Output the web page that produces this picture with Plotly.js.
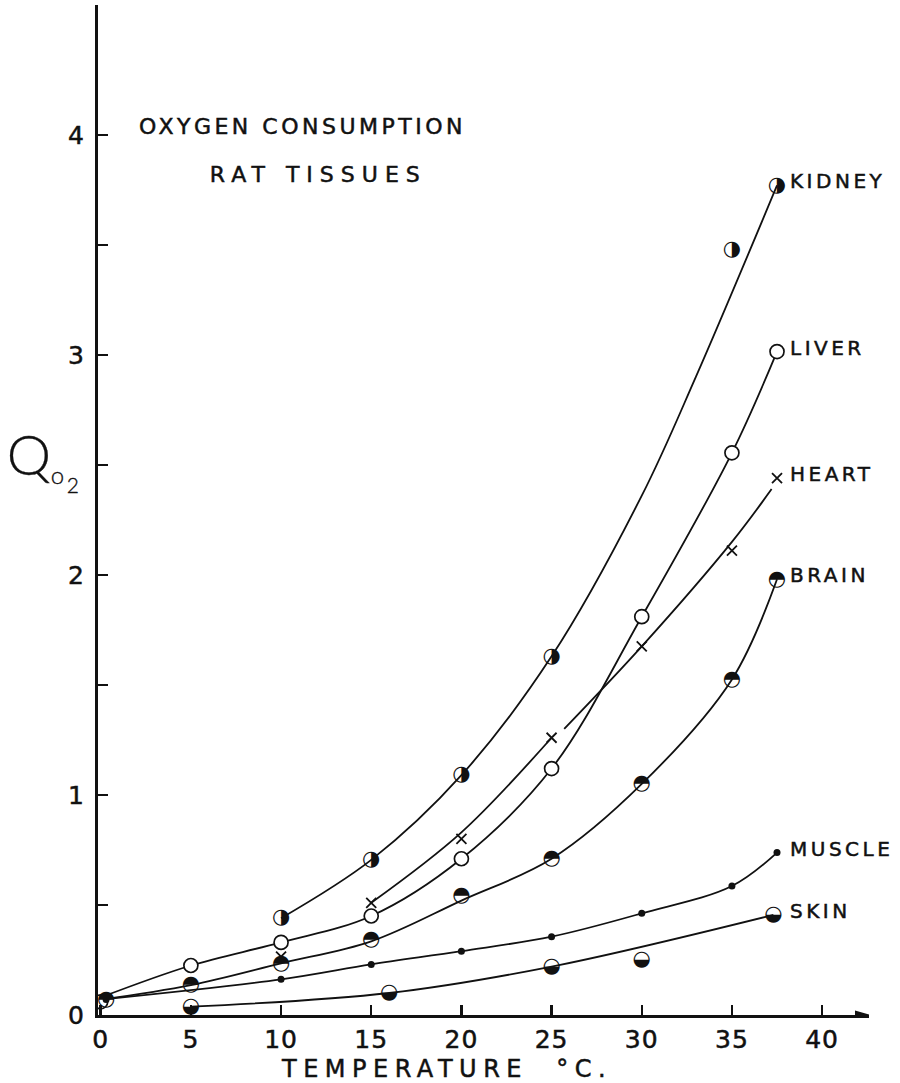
<!DOCTYPE html>
<html>
<head>
<meta charset="utf-8">
<script src="https://cdn.plot.ly/plotly-3.0.1.min.js"></script>
<style>
  html, body { margin: 0; padding: 0; background: #fff; }
  #chart { width: 900px; height: 1083px; }
  .annotation-text { letter-spacing: 3.5px; stroke: #111; stroke-width: 0.5px; }
  .annotation[data-index="7"] .annotation-text { letter-spacing: 7px; }
  .annotation[data-index="8"] .annotation-text { letter-spacing: 6.5px; }
  .annotation[data-index="9"] .annotation-text,
  .annotation[data-index="10"] .annotation-text,
  .annotation[data-index="11"] .annotation-text { letter-spacing: 0; stroke-width: 0.3px; }
  .xtick text, .ytick text { letter-spacing: 1px; stroke: #111; stroke-width: 0.5px; }
</style>
</head>
<body>
<div id="chart"></div>
<script>
// ---- tick labels ----
const xTickVals = [0, 5, 10, 15, 20, 25, 30, 35, 40];
const xTickText = ['0', '5', '10', '15', '20', '25', '30', '35', '40'];
const yTickVals = [0, 1, 2, 3, 4];
const yTickText = ['0', '1', '2', '3', '4'];
const yMinorTicks = [0.5, 1.5, 2.5, 3.5];

// ---- measured points (temperature °C, Qo2) ----
const kidneyT = [10, 15, 20, 25, 35, 37.5];
const kidneyQ = [0.44, 0.705, 1.09, 1.63, 3.48, 3.77];
const liverT = [0, 5, 10, 15, 20, 25, 30, 35, 37.5];
const liverQ = [0.06, 0.225, 0.33, 0.45, 0.71, 1.12, 1.81, 2.555, 3.015];
const heartT = [10, 15, 20, 25, 30, 35, 37.5];
const heartQ = [0.265, 0.51, 0.80, 1.26, 1.675, 2.11, 2.44];
const brainT = [0.3, 5, 10, 15, 20, 25, 30, 35, 37.5];
const brainQ = [0.07, 0.136, 0.235, 0.34, 0.54, 0.71, 1.05, 1.525, 1.98];
const muscleT = [0.3, 10, 15, 20, 25, 30, 35, 37.5];
const muscleQ = [0.07, 0.162, 0.23, 0.29, 0.356, 0.462, 0.586, 0.738];
const skinT = [5, 16, 25, 30, 37.3];
const skinQ = [0.038, 0.10, 0.22, 0.25, 0.455];

// ---- hand-drawn fitted curves ----
const kidneyCurveT = [10, 15, 20, 25, 30, 33, 37.5];
const kidneyCurveQ = [0.44, 0.705, 1.09, 1.63, 2.36, 2.90, 3.77];
const liverCurveT = [0, 5, 10, 15, 20, 25, 30, 35, 37.5];
const liverCurveQ = [0.08, 0.225, 0.33, 0.45, 0.71, 1.12, 1.81, 2.555, 3.015];
const heartCurveAT = [15, 20, 25];
const heartCurveAQ = [0.51, 0.83, 1.26];
const heartCurveBT = [25.7, 30, 35, 37.2];
const heartCurveBQ = [1.30, 1.675, 2.15, 2.39];
const brainCurveT = [0, 5, 10, 15, 20, 25, 30, 35, 37.5];
const brainCurveQ = [0.07, 0.136, 0.235, 0.335, 0.52, 0.71, 1.05, 1.525, 1.98];
const muscleCurveT = [0, 10, 15, 20, 25, 30, 35, 37.5];
const muscleCurveQ = [0.07, 0.162, 0.23, 0.29, 0.356, 0.462, 0.586, 0.738];
const skinCurveT = [5, 16, 25, 37.3];
const skinCurveQ = [0.038, 0.10, 0.22, 0.455];

const tissueNames = ['KIDNEY', 'LIVER', 'HEART', 'BRAIN', 'MUSCLE', 'SKIN'];
const titleLines = ['OXYGEN CONSUMPTION', 'RAT TISSUES'];
const xTitle = 'TEMPERATURE\u00a0\u00a0°C.';
const yTitleParts = ['Q', 'o', '2'];

const FONT = 'DejaVu Sans, Liberation Sans, sans-serif';
const THIN = 'DejaVu Sans ExtraLight, Lato Light, Lato, DejaVu Sans';
const INK = '#111';

function curve(x, y) {
  return {x: x, y: y, mode: 'lines', type: 'scatter', hoverinfo: 'skip',
    line: {color: INK, width: 1.8, shape: 'spline', smoothing: 1}, showlegend: false};
}
function glyphs(x, y, ch) {
  return {x: x, y: y, mode: 'text', type: 'scatter', text: x.map(() => ch),
    textposition: 'middle center', hoverinfo: 'skip',
    textfont: {family: 'DejaVu Sans', size: 21, color: INK}, showlegend: false};
}

const traces = [
  curve(kidneyCurveT, kidneyCurveQ),
  curve(liverCurveT, liverCurveQ),
  curve(heartCurveAT, heartCurveAQ),
  curve(heartCurveBT, heartCurveBQ),
  curve(brainCurveT, brainCurveQ),
  curve(muscleCurveT, muscleCurveQ),
  curve(skinCurveT, skinCurveQ),
  {x: liverT, y: liverQ, mode: 'markers', type: 'scatter', showlegend: false,
    marker: {symbol: 'circle', size: 14, color: '#fff', line: {color: INK, width: 1.7}}},
  {x: muscleT, y: muscleQ, mode: 'markers', type: 'scatter', showlegend: false,
    marker: {symbol: 'circle', size: 7, color: INK}},
  {x: heartT, y: heartQ, mode: 'markers', type: 'scatter', showlegend: false,
    marker: {symbol: 'x-thin-open', size: 10, color: INK, line: {color: INK, width: 1.8}}},
  glyphs(kidneyT, kidneyQ, '\u25D1'),
  glyphs(brainT, brainQ, '\u25D3'),
  glyphs(skinT, skinQ, '\u25D2')
];

const endQ = [kidneyQ[kidneyQ.length - 1], liverQ[liverQ.length - 1], heartQ[heartQ.length - 1],
  brainQ[brainQ.length - 1], muscleQ[muscleQ.length - 1], skinQ[skinQ.length - 1]];

// indices 0-5: tissue labels
const annotations = tissueNames.map((name, i) => ({
  text: name, x: 38.1, y: endQ[i], xref: 'x', yref: 'y', xanchor: 'left', yanchor: 'middle',
  yshift: 4, showarrow: false, font: {family: FONT, size: 20, color: INK}
}));
annotations.push(
  // 6, 7: chart title
  {text: titleLines[0], x: 11.2, y: 4.04, xref: 'x', yref: 'y', showarrow: false,
    font: {family: FONT, size: 22, color: INK}},
  {text: titleLines[1], x: 12.1, y: 3.82, xref: 'x', yref: 'y', showarrow: false,
    font: {family: FONT, size: 22, color: INK}},
  // 8: x-axis title
  {text: xTitle, x: 0.452, y: -0.0535, xref: 'paper', yref: 'paper', xanchor: 'center',
    yanchor: 'middle', showarrow: false, font: {family: FONT, size: 24, color: INK}},
  // 9-11: y-axis title  Q o 2
  {text: yTitleParts[0], x: -0.1235, y: 0.5555, xref: 'paper', yref: 'paper', showarrow: false,
    xanchor: 'left', yanchor: 'middle',
    font: {family: THIN, size: 56, color: INK, weight: 300}},
  {text: yTitleParts[1], x: -0.0665, y: 0.5347, xref: 'paper', yref: 'paper', showarrow: false,
    xanchor: 'left', yanchor: 'middle',
    font: {family: THIN, size: 24, color: INK, weight: 300}},
  {text: yTitleParts[2], x: -0.0450, y: 0.5248, xref: 'paper', yref: 'paper', showarrow: false,
    xanchor: 'left', yanchor: 'middle',
    font: {family: THIN, size: 21, color: INK, weight: 300}}
);

const layout = {
  width: 900, height: 1083,
  margin: {l: 98, r: 31, t: 5, b: 68, pad: 0},
  paper_bgcolor: '#fff', plot_bgcolor: '#fff',
  showlegend: false,
  font: {family: FONT, color: INK},
  xaxis: {
    range: [-0.15, 42.6], showgrid: false, zeroline: false,
    showline: true, linecolor: INK, linewidth: 3,
    ticks: 'inside', ticklen: 10, tickwidth: 2.5, tickcolor: INK,
    tickvals: xTickVals, ticktext: xTickText, ticklabelstandoff: 0,
    tickfont: {family: FONT, size: 25, color: INK}
  },
  yaxis: {
    range: [0, 4.59], showgrid: false, zeroline: false,
    showline: true, linecolor: INK, linewidth: 3,
    ticks: 'inside', ticklen: 10, tickwidth: 2.5, tickcolor: INK,
    tickvals: yTickVals, ticktext: yTickText, ticklabelstandoff: 5,
    tickfont: {family: FONT, size: 25, color: INK},
    minor: {tickvals: yMinorTicks, ticks: 'inside', ticklen: 10, tickwidth: 2.5,
      tickcolor: INK, showgrid: false}
  },
  shapes: [
    // pointed end of the temperature axis
    {type: 'path', xref: 'x', yref: 'y', xsizemode: 'pixel', ysizemode: 'pixel',
      xanchor: 42.6, yanchor: 0, path: 'M 2,0 L -14,4.5 L -14,-4.5 Z',
      fillcolor: INK, line: {width: 0}, layer: 'above'}
  ],
  annotations: annotations
};

Plotly.newPlot('chart', traces, layout, {staticPlot: true, displayModeBar: false});
</script>
</body>
</html>
